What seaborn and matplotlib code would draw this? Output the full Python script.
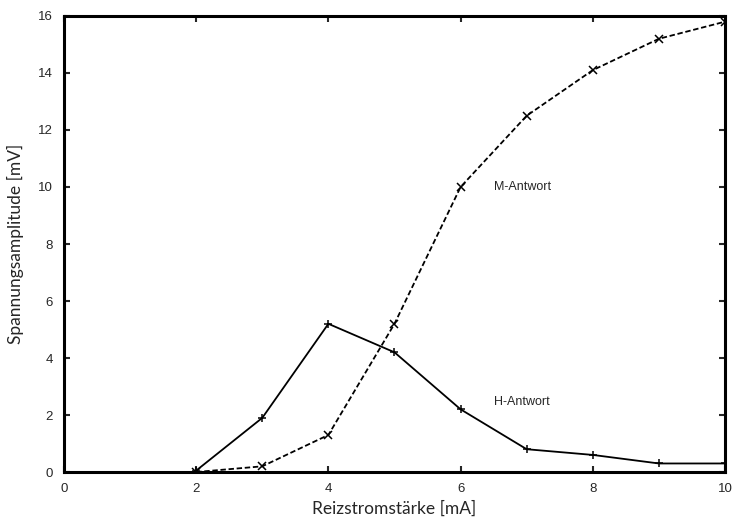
import pandas as pd
import matplotlib.pyplot as plt
import seaborn as sns

# Reizstromstärke [mA]
strom = [2, 3, 4, 5, 6, 7, 8, 9, 10]
h_antwort = [0.05, 1.9, 5.2, 4.2, 2.2, 0.8, 0.6, 0.3, 0.3]
m_antwort = [0.0, 0.2, 1.3, 5.2, 10.0, 12.5, 14.1, 15.2, 15.8]

x_ticks = [0, 2, 4, 6, 8, 10]
y_ticks = [0, 2, 4, 6, 8, 10, 12, 14, 16]

df = pd.DataFrame({
    "strom": strom * 2,
    "wert": h_antwort + m_antwort,
    "antwort": ["H-Antwort"] * len(strom) + ["M-Antwort"] * len(strom),
})

sns.set_style("ticks")
plt.rcParams["font.family"] = ["Liberation Sans", "DejaVu Sans"]

fig = plt.figure(figsize=(7.37, 5.24), dpi=100)
ax = fig.add_axes([0.0868, 0.0992, 0.8969, 0.8703])

sns.lineplot(data=df, x="strom", y="wert", style="antwort", markers={"H-Antwort": "+", "M-Antwort": "x"},
             dashes={"H-Antwort": "", "M-Antwort": (3, 1.5)}, color="black", linewidth=1.3,
             markersize=5.5, markeredgewidth=1.1, markeredgecolor="black", legend=False, ax=ax)

ax.text(6.5, 10.0, "M-Antwort", fontsize=9, va="center", ha="left")
ax.text(6.5, 2.45, "H-Antwort", fontsize=9, va="center", ha="left")

ax.set_xlim(0, 10)
ax.set_ylim(0, 16)
ax.set_xticks(x_ticks)
ax.set_yticks(y_ticks)
ax.tick_params(direction="in", length=4, width=1.5, top=True, right=True, labelsize=9.5, pad=8)
for s in ax.spines.values():
    s.set_linewidth(2.2)
    s.set_color("black")

ax.set_xlabel("Reizstromstärke [mA]", fontsize=12.5, family=["Lato", "DejaVu Sans"], labelpad=4)
ax.set_ylabel("Spannungsamplitude [mV]", fontsize=12.5, family=["Lato", "DejaVu Sans"], labelpad=10)

fig.savefig("out.png", dpi=100)
